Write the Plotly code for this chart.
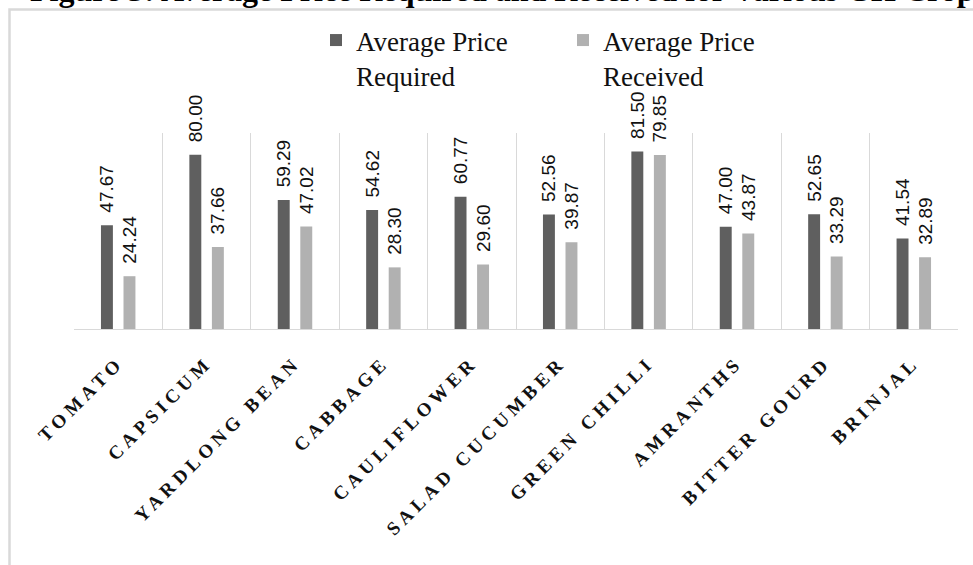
import plotly.graph_objects as go

# Crop names and average prices (Rs/kg)
crops = ["TOMATO", "CAPSICUM", "YARDLONG BEAN", "CABBAGE", "CAULIFLOWER",
         "SALAD CUCUMBER", "GREEN CHILLI", "AMRANTHS", "BITTER GOURD", "BRINJAL"]
price_required = [47.67, 80.00, 59.29, 54.62, 60.77, 52.56, 81.50, 47.00, 52.65, 41.54]
price_received = [24.24, 37.66, 47.02, 28.30, 29.60, 39.87, 79.85, 43.87, 33.29, 32.89]

series_names = ["Average Price<br>Required", "Average Price<br>Received"]
series_colors = ["#5f5f5f", "#b1b1b1"]

W, H = 973, 565
plot_left, plot_right = 74, 958
plot_top, plot_bottom = 133, 329

# spaced-out bold category labels
tick_text = ['<span style="letter-spacing:4.5px">%s</span>' % c for c in crops]

fig = go.Figure()
for name, vals, color in zip(series_names, [price_required, price_received], series_colors):
    fig.add_trace(go.Bar(
        x=crops,
        y=vals,
        name=name,
        marker=dict(color=color, line=dict(width=0)),
        texttemplate="\u2002%{y:.2f}",
        textposition="outside",
        textangle=-90,
        constraintext="none",
        cliponaxis=False,
        textfont=dict(family="Liberation Sans, Arial, sans-serif", size=19, color="#111111"),
        hoverinfo="skip",
    ))

fig.update_layout(
    width=W,
    height=H,
    autosize=False,
    margin=dict(l=0, r=0, t=0, b=0, autoexpand=False),
    paper_bgcolor="white",
    plot_bgcolor="white",
    barmode="group",
    bargap=0.49,
    bargroupgap=0.47,
    showlegend=True,
    legend=dict(
        orientation="h",
        x=316 / W,
        xanchor="left",
        y=1 - 16 / H,
        yanchor="top",
        valign="top",
        entrywidth=202,
        entrywidthmode="pixels",
        font=dict(family="Liberation Serif, Times New Roman, serif", size=27, color="#111111"),
        bgcolor="rgba(0,0,0,0)",
        traceorder="normal",
    ),
    xaxis=dict(
        type="category",
        domain=[plot_left / W, plot_right / W],
        automargin=False,
        tickson="boundaries",
        showgrid=True,
        gridcolor="#d9d9d9",
        gridwidth=1,
        showline=True,
        linecolor="#d9d9d9",
        linewidth=1,
        ticks="",
        tickangle=-45,
        tickmode="array",
        tickvals=crops,
        ticktext=tick_text,
        ticklabelstandoff=14,
        tickfont=dict(family="Liberation Serif, Times New Roman, serif", size=19,
                      color="#111111", weight="bold"),
        fixedrange=True,
    ),
    yaxis=dict(
        visible=False,
        automargin=False,
        range=[0, 90],
        domain=[1 - plot_bottom / H, 1 - plot_top / H],
        fixedrange=True,
    ),
    shapes=[
        # chart frame, open to the right and bottom
        dict(type="rect", xref="paper", yref="paper",
             x0=9.5 / W, x1=1.05, y0=-0.05, y1=1 - 9.5 / H,
             line=dict(color="#d9d9d9", width=2.5), fillcolor="rgba(0,0,0,0)", layer="below"),
    ],
    annotations=[
        dict(text="<b>Figure 5: Average Price Required and Received for Various GH Crops</b>",
             xref="paper", yref="paper", x=28 / W, y=1 - 10.5 / H,
             xanchor="left", yanchor="bottom", showarrow=False,
             font=dict(family="Liberation Serif, Times New Roman, serif", size=32, color="#000000")),
    ],
)

fig.write_html("out.html")
